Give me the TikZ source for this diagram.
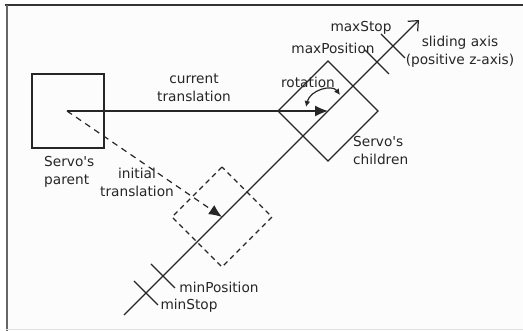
\documentclass[tikz,border=0pt]{standalone}
\usepackage{fontspec}
\newfontfamily\dvfont{DejaVu Sans}
\usetikzlibrary{arrows.meta,calc}
\begin{document}
\begin{tikzpicture}[x=1pt,y=-1pt,
  lbl/.style={font=\dvfont\fontsize{13.7}{18}\selectfont, inner sep=0pt, text=black!85},
  ln/.style={line width=1.2pt, black!85},
  box/.style={draw, line width=1.2pt, black!85, rotate=45, minimum width=70.7pt, minimum height=70.7pt, inner sep=0pt},
  tick/.style={line width=1.2pt, black!85}]
\useasboundingbox (0,0) rectangle (523,331);
\fill[white] (0,0) rectangle (523,331);
\fill[black!1] (6,5) rectangle (523,330);
\draw[line width=1.5pt, black!80] (5,5) -- (523,5);
\draw[line width=2pt, black!60] (6.5,5) -- (6.5,331);
\draw[line width=1pt, black!12] (6,330) -- (523,330);

% parent
\node[draw, line width=1.2pt, black!85, minimum width=72pt, minimum height=74pt, inner sep=0pt] (parent) at (68,111) {};
\coordinate (porig) at (67,111);

% boxes
\node[box] (child) at (328,111) {};
\node[box, dashed, dash pattern=on 5pt off 4pt] (ghost) at (222,217) {};

% axis
\coordinate (a0) at (124,315);
\coordinate (a1) at (419,20);
\draw[ln, -{Straight Barb[length=8pt,width=14pt,line width=1.2pt]}] (a0) -- (a1);

% ticks
\coordinate (tminS) at (146,293);
\coordinate (tminP) at (163,276);
\coordinate (tmaxP) at (377,62);
\coordinate (tmaxS) at (393,46);
\foreach \c in {tminS,tminP,tmaxP,tmaxS}
  \draw[tick] ($(\c)+(-12,-12)$) -- ($(\c)+(12,12)$);

% translations
\draw[ln, -{Latex[length=13pt,width=11pt]}] (porig) -- (child.center);
\draw[ln, dashed, dash pattern=on 6pt off 5pt, -{Latex[length=13pt,width=11pt]}] (porig) -- (ghost.center);

% rotation arc
\coordinate (r0) at (306,107);
\coordinate (r1) at (340,95);
\draw[ln, {Latex[length=6pt,width=6pt]}-{Latex[length=6pt,width=6pt]}] (r0) .. controls (310,90) and (332,84) .. (r1);

% labels
\node[lbl] (lmaxS) at (361,28) {maxStop};
\node[lbl] (lmaxP) at (333,48) {maxPosition};
\node[lbl, align=center] (lslide) at (460,52) {sliding axis\\(positive z-axis)};
\node[lbl, align=center] (lcur) at (194,88) {current\\translation};
\node[lbl] (lrot) at (308,82) {rotation};
\node[lbl, align=left, anchor=west] (lchild) at (353,151) {Servo's\\children};
\node[lbl, align=left, anchor=west] (lparent) at (44,172) {Servo's\\parent};
\node[lbl, align=center] (linit) at (137,182) {initial\\translation};
\node[lbl] (lminP) at (219,287) {minPosition};
\node[lbl] (lminS) at (189,306) {minStop};
\end{tikzpicture}
\end{document}
